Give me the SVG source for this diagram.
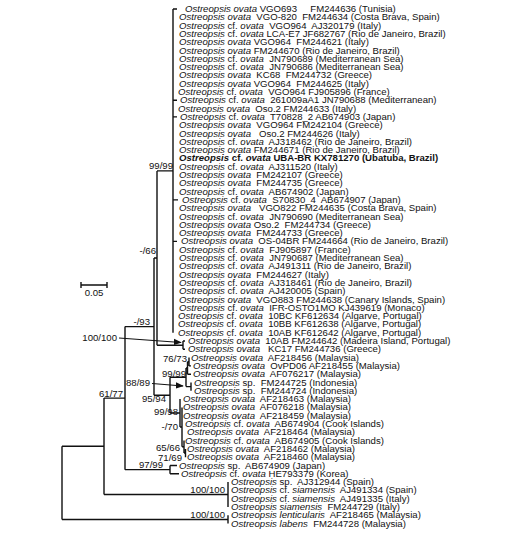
<svg xmlns="http://www.w3.org/2000/svg" width="528" height="537" viewBox="0 0 528 537">
<style>
text{font-family:"Liberation Sans",Arial,sans-serif;font-size:9.6px;fill:#111;white-space:pre;}
.i{font-style:italic;}
.b{font-weight:bold;}
.lbl{text-anchor:end;}
.tree{fill:none;stroke:#111;stroke-width:1.4;}
.arr{fill:none;stroke:#111;stroke-width:1.1;}
</style>
<defs>
<marker id="ah" viewBox="0 0 10 10" refX="9" refY="5" markerWidth="8" markerHeight="8" orient="auto" markerUnits="userSpaceOnUse">
<path d="M0,1 L10,5 L0,9 Z" fill="#111"/>
</marker>
</defs>
<rect width="528" height="537" fill="#fff"/>
<g id="connectors">
<path class="tree" d="M173 9 V332.7 M173 9 H177 M173 100.3 H177 M173 116.9 H177 M173 199.9 H178 M173 241.4 H177
M157 170.9 H173 M157 170.9 V345.2 M157 345.2 H183 M183 341 V349.3 M183 341 H185 M183 349.3 H185
M154 258 H157 M154 258 V395.2 M125 326.6 H154
M154 395.2 H170 M170 377.3 V413
M170 377.3 H186 M186 368 V386.6 M186 368 H187.5 M187.5 361.75 V374.2 M187.5 374.2 H191
M187.5 361.75 H189 M189 357.6 V365.9 M189 365.9 H191
M186 386.6 H191 M191 382.5 V390.8
M170 413 H180 M180 399.1 V427 M180 427 H182 M182 407.4 V446.8 M182 446.8 H184 M184 440.6 V453 M184 453 H185.5 M185.5 448.9 V457.2
M125 469.65 H170 M170 465.5 V473.8 M170 465.5 H177 M170 473.8 H179
M125 326.6 V469.65 M104 398.1 H125 M104 398.1 V494.55 M62 446.3 H104
M104 494.55 H228 M228 482.1 V507 M62 519.45 H228 M228 515.3 V523.6 M62 446.3 V519.45"/>
<path class="arr" d="M119 338 L181 342.5" marker-end="url(#ah)"/>
<path class="arr" d="M152 383.5 L183 386" marker-end="url(#ah)"/>
</g>
<g id="scale">
<path class="tree" d="M81 285 H107 M81 282 V288 M107 282 V288"/>
<text x="94" y="296" text-anchor="middle">0.05</text>
</g>
<g id="support-labels">
<text class="lbl" x="173" y="168.5">99/99</text>
<text class="lbl" x="156" y="253.5">-/66</text>
<text class="lbl" x="150" y="324.5">-/93</text>
<text class="lbl" x="117" y="340.5">100/100</text>
<text class="lbl" x="187" y="362">76/73</text>
<text class="lbl" x="186" y="376.5">99/99</text>
<text class="lbl" x="150" y="385.5">88/89</text>
<text class="lbl" x="123" y="396.5">61/77</text>
<text class="lbl" x="166" y="401.5">95/94</text>
<text class="lbl" x="178" y="414.5">99/98</text>
<text class="lbl" x="178" y="429.5">-/70</text>
<text class="lbl" x="180" y="450.5">65/66</text>
<text class="lbl" x="182" y="460.5">71/69</text>
<text class="lbl" x="163" y="468">97/99</text>
<text class="lbl" x="225" y="492.5">100/100</text>
<text class="lbl" x="225" y="517.5">100/100</text>
</g>
<g id="leaves">
<g id="leaf1"><text x="185" y="12"><tspan class="i">Ostreopsis ovata</tspan> VGO693&#160;&#160;&#160;&#160; FM244636 (Tunisia)</text></g>
<g id="leaf2"><text x="179" y="20.3"><tspan class="i">Ostreopsis ovata</tspan>&#160; VGO-820&#160; FM244634 (Costa Brava, Spain)</text></g>
<g id="leaf3"><text x="179" y="28.6"><tspan class="i">Ostreopsis</tspan> cf. <tspan class="i">ovata</tspan>&#160; VGO964&#160; AJ320179 (Italy)</text></g>
<g id="leaf4"><text x="179" y="36.9"><tspan class="i">Ostreopsis</tspan> cf. <tspan class="i">ovata</tspan> LCA-E7 JF682767 (Rio de Janeiro, Brazil)</text></g>
<g id="leaf5"><text x="179" y="45.2"><tspan class="i">Ostreopsis ovata</tspan> VGO964&#160; FM244621 (Italy)</text></g>
<g id="leaf6"><text x="179" y="53.5"><tspan class="i">Ostreopsis ovata</tspan> FM244670 (Rio de Janeiro, Brazil)</text></g>
<g id="leaf7"><text x="179" y="61.8"><tspan class="i">Ostreopsis</tspan> cf. <tspan class="i">ovata</tspan>&#160; JN790689 (Mediterranean Sea)</text></g>
<g id="leaf8"><text x="179" y="70.1"><tspan class="i">Ostreopsis</tspan> cf. <tspan class="i">ovata</tspan>&#160; JN790686 (Mediterranean Sea)</text></g>
<g id="leaf9"><text x="179" y="78.4"><tspan class="i">Ostreopsis ovata</tspan>&#160; KC68&#160; FM244732 (Greece)</text></g>
<g id="leaf10"><text x="179" y="86.7"><tspan class="i">Ostreopsis ovata</tspan> VGO964&#160; FM244625 (Italy)</text></g>
<g id="leaf11"><text x="178" y="95"><tspan class="i">Ostreopsis</tspan> cf. <tspan class="i">ovata</tspan>&#160; VGO964 FJ905896 (France)</text></g>
<g id="leaf12"><text x="180" y="103.3"><tspan class="i">Ostreopsis</tspan> cf. <tspan class="i">ovata</tspan>&#160; 261009aA1 JN790688 (Mediterranean)</text></g>
<g id="leaf13"><text x="178" y="111.6"><tspan class="i">Ostreopsis ovata</tspan>&#160; Oso.2 FM244633 (Italy)</text></g>
<g id="leaf14"><text x="180" y="119.9"><tspan class="i">Ostreopsis</tspan> cf. <tspan class="i">ovata</tspan>&#160; T70828_2 AB674903 (Japan)</text></g>
<g id="leaf15"><text x="179" y="128.2"><tspan class="i">Ostreopsis ovata</tspan>&#160; VGO964 FM242104 (Greece)</text></g>
<g id="leaf16"><text x="179" y="136.5"><tspan class="i">Ostreopsis ovata</tspan>&#160;&#160; Oso.2 FM244626 (Italy)</text></g>
<g id="leaf17"><text x="179" y="144.8"><tspan class="i">Ostreopsis</tspan> cf. <tspan class="i">ovata</tspan>&#160; AJ318462 (Rio de Janeiro, Brazil)</text></g>
<g id="leaf18"><text x="179" y="153.1"><tspan class="i">Ostreopsis ovata</tspan> FM244671 (Rio de Janeiro, Brazil)</text></g>
<g id="leaf19"><text class="b" x="179" y="161.4"><tspan class="i">Ostreopsis</tspan> cf. <tspan class="i">ovata</tspan> UBA-BR KX781270 (Ubatuba, Brazil)</text></g>
<g id="leaf20"><text x="179" y="169.7"><tspan class="i">Ostreopsis</tspan> cf. <tspan class="i">ovata</tspan>&#160; AJ311520 (Italy)</text></g>
<g id="leaf21"><text x="179" y="178"><tspan class="i">Ostreopsis ovata</tspan>&#160; FM242107 (Greece)</text></g>
<g id="leaf22"><text x="179" y="186.3"><tspan class="i">Ostreopsis ovata</tspan>&#160; FM244735 (Greece)</text></g>
<g id="leaf23"><text x="179" y="194.6"><tspan class="i">Ostreopsis</tspan> cf. <tspan class="i">ovata</tspan>&#160; AB674902 (Japan)</text></g>
<g id="leaf24"><text x="182" y="202.9"><tspan class="i">Ostreopsis</tspan> cf. <tspan class="i">ovata</tspan>&#160; S70830_4&#160; AB674907 (Japan)</text></g>
<g id="leaf25"><text x="179" y="211.2"><tspan class="i">Ostreopsis ovata</tspan>&#160;&#160; VGO822 FM244635 (Costa Brava, Spain)</text></g>
<g id="leaf26"><text x="179" y="219.5"><tspan class="i">Ostreopsis</tspan> cf. <tspan class="i">ovata</tspan>&#160; JN790690 (Mediterranean Sea)</text></g>
<g id="leaf27"><text x="179" y="227.8"><tspan class="i">Ostreopsis ovata</tspan> Oso.2&#160; FM244734 (Greece)</text></g>
<g id="leaf28"><text x="179" y="236.1"><tspan class="i">Ostreopsis ovata</tspan>&#160; FM244733 (Greece)</text></g>
<g id="leaf29"><text x="181" y="244.4"><tspan class="i">Ostreopsis ovata</tspan>&#160; OS-04BR FM244664 (Rio de Janeiro, Brazil)</text></g>
<g id="leaf30"><text x="179" y="252.7"><tspan class="i">Ostreopsis</tspan> cf. <tspan class="i">ovata</tspan>&#160; FJ905897 (France)</text></g>
<g id="leaf31"><text x="179" y="261"><tspan class="i">Ostreopsis</tspan> cf. <tspan class="i">ovata</tspan>&#160; JN790687 (Mediterranean Sea)</text></g>
<g id="leaf32"><text x="179" y="269.3"><tspan class="i">Ostreopsis</tspan> cf. <tspan class="i">ovata</tspan>&#160; AJ491311 (Rio de Janeiro, Brazil)</text></g>
<g id="leaf33"><text x="179" y="277.6"><tspan class="i">Ostreopsis ovata</tspan>&#160; FM244627 (Italy)</text></g>
<g id="leaf34"><text x="179" y="285.9"><tspan class="i">Ostreopsis</tspan> cf. <tspan class="i">ovata</tspan>&#160; AJ318461 (Rio de Janeiro, Brazil)</text></g>
<g id="leaf35"><text x="179" y="294.2"><tspan class="i">Ostreopsis</tspan> cf. <tspan class="i">ovata</tspan>&#160; AJ420005 (Spain)</text></g>
<g id="leaf36"><text x="179" y="302.5"><tspan class="i">Ostreopsis ovata</tspan>&#160; VGO883 FM244638 (Canary Islands, Spain)</text></g>
<g id="leaf37"><text x="179" y="310.8"><tspan class="i">Ostreopsis</tspan> cf. <tspan class="i">ovata</tspan>&#160; IFR-OSTO1MO KJ439619 (Monaco)</text></g>
<g id="leaf38"><text x="178" y="319.1"><tspan class="i">Ostreopsis</tspan> cf. <tspan class="i">ovata</tspan>&#160; 10BC KF612634 (Algarve, Portugal)</text></g>
<g id="leaf39"><text x="178" y="327.4"><tspan class="i">Ostreopsis</tspan> cf. <tspan class="i">ovata</tspan>&#160; 10BB KF612638 (Algarve, Portugal)</text></g>
<g id="leaf40"><text x="178" y="335.7"><tspan class="i">Ostreopsis</tspan> cf. <tspan class="i">ovata</tspan>&#160; 10AB KF612642 (Algarve, Portugal)</text></g>
<g id="leaf41"><text x="188" y="344"><tspan class="i">Ostreopsis ovata</tspan>&#160; 10AB FM244642 (Madeira Island, Portugal)</text></g>
<g id="leaf42"><text x="188" y="352.3"><tspan class="i">Ostreopsis ovata</tspan>&#160;&#160; KC17 FM244736 (Greece)</text></g>
<g id="leaf43"><text x="191" y="360.6"><tspan class="i">Ostreopsis ovata</tspan>&#160; AF218456 (Malaysia)</text></g>
<g id="leaf44"><text x="193" y="368.9"><tspan class="i">Ostreopsis ovata</tspan>&#160; OvPD06 AF218455 (Malaysia)</text></g>
<g id="leaf45"><text x="193" y="377.2"><tspan class="i">Ostreopsis ovata</tspan>&#160; AF076217 (Malaysia)</text></g>
<g id="leaf46"><text x="194" y="385.5"><tspan class="i">Ostreopsis</tspan> sp.&#160; FM244725 (Indonesia)</text></g>
<g id="leaf47"><text x="194" y="393.8"><tspan class="i">Ostreopsis</tspan> sp.&#160; FM244724 (Indonesia)</text></g>
<g id="leaf48"><text x="183" y="402.1"><tspan class="i">Ostreopsis ovata</tspan>&#160; AF218463 (Malaysia)</text></g>
<g id="leaf49"><text x="183" y="410.4"><tspan class="i">Ostreopsis ovata</tspan>&#160; AF076218 (Malaysia)</text></g>
<g id="leaf50"><text x="183" y="418.7"><tspan class="i">Ostreopsis ovata</tspan>&#160; AF218459 (Malaysia)</text></g>
<g id="leaf51"><text x="185" y="427"><tspan class="i">Ostreopsis</tspan> cf. <tspan class="i">ovata</tspan>&#160; AB674904 (Cook Islands)</text></g>
<g id="leaf52"><text x="187" y="435.3"><tspan class="i">Ostreopsis ovata</tspan>&#160; AF218464 (Malaysia)</text></g>
<g id="leaf53"><text x="185" y="443.6"><tspan class="i">Ostreopsis</tspan> cf. <tspan class="i">ovata</tspan>&#160; AB674905 (Cook Islands)</text></g>
<g id="leaf54"><text x="187" y="451.9"><tspan class="i">Ostreopsis ovata</tspan>&#160; AF218462 (Malaysia)</text></g>
<g id="leaf55"><text x="187" y="460.2"><tspan class="i">Ostreopsis ovata</tspan>&#160; AF218460 (Malaysia)</text></g>
<g id="leaf56"><text x="179" y="468.5"><tspan class="i">Ostreopsis</tspan> sp.&#160; AB674909 (Japan)</text></g>
<g id="leaf57"><text x="181" y="476.8"><tspan class="i">Ostreopsis</tspan> cf. <tspan class="i">ovata</tspan> HE793379 (Korea)</text></g>
<g id="leaf58"><text x="231" y="485.1"><tspan class="i">Ostreopsis</tspan> sp.&#160; AJ312944 (Spain)</text></g>
<g id="leaf59"><text x="231" y="493.4"><tspan class="i">Ostreopsis</tspan> cf. <tspan class="i">siamensis</tspan>&#160; AJ491334 (Spain)</text></g>
<g id="leaf60"><text x="231" y="501.7"><tspan class="i">Ostreopsis</tspan> cf. <tspan class="i">siamensis</tspan>&#160; AJ491335 (Italy)</text></g>
<g id="leaf61"><text x="231" y="510"><tspan class="i">Ostreopsis siamensis</tspan>&#160; FM244729 (Italy)</text></g>
<g id="leaf62"><text x="231" y="518.3"><tspan class="i">Ostreopsis lenticularis</tspan>&#160; AF218465 (Malaysia)</text></g>
<g id="leaf63"><text x="231" y="526.6"><tspan class="i">Ostreopsis labens</tspan>&#160; FM244728 (Malaysia)</text></g>
</g>
</svg>
